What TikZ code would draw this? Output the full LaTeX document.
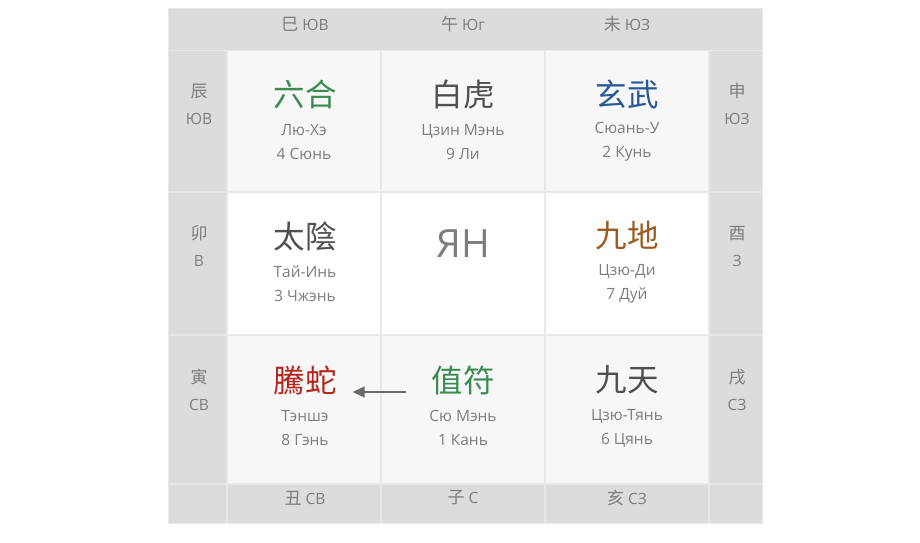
\documentclass[tikz,border=0pt]{standalone}
\usepackage{fontspec}
\setmainfont{Open Sans}
\newfontfamily\cjk{Noto Sans CJK SC}
\usetikzlibrary{arrows.meta}
\definecolor{grisfondo}{RGB}{220,220,220}
\definecolor{grislinea}{RGB}{232,232,232}
\definecolor{grisclaro}{RGB}{247,247,247}
\definecolor{gristexto}{RGB}{125,125,125}
\definecolor{grisoscuro}{RGB}{80,80,80}
\definecolor{verdejade}{RGB}{58,140,82}
\definecolor{azulnoche}{RGB}{40,88,150}
\definecolor{ocre}{RGB}{155,90,30}
\definecolor{rojoladrillo}{RGB}{178,38,30}
\newcommand{\gan}[1]{{\cjk\fontsize{17}{27}\selectfont #1}}
\tikzset{>={Triangle[length=12pt,width=11pt]},
  rumbo/.style={text=gristexto, inner sep=0pt, font=\fontsize{15.5}{27}\selectfont, align=center},
  signo/.style={inner sep=0pt, font=\cjk\fontsize{31.5}{33}\selectfont},
  nombre/.style={text=gristexto, inner sep=0pt, align=center, font=\fontsize{15.5}{24}\selectfont}}

\begin{document}
\begin{tikzpicture}[x=1pt,y=-1pt]
		 \useasboundingbox (0,0) rectangle (920,542);
		 \fill[grislinea] (168,8) rectangle (763,524);
		 \fill[grisfondo] (169,9) rectangle (762,50);
		 % columnas de los lados
		 \fill[grisfondo] (169,51) rectangle (226,191);
		 \fill[grisfondo] (169,193) rectangle (226,334);
		 \fill[grisfondo] (169,336) rectangle (226,483);
		 \fill[grisfondo] (710,51) rectangle (762,191);
		 \fill[grisfondo] (710,193) rectangle (762,334);
		 \fill[grisfondo] (710,336) rectangle (762,483);
		 % fila de abajo
		 \fill[grisfondo] (169,485) rectangle (226,523);
		 \fill[grisfondo] (228,485) rectangle (380,523);
		 \fill[grisfondo] (382,485) rectangle (544,523);
		 \fill[grisfondo] (546,485) rectangle (708,523);
		 \fill[grisfondo] (710,485) rectangle (762,523);
		 % palacios
		 \fill[grisclaro] (228,51) rectangle (380,191);
		 \fill[grisclaro] (382,51) rectangle (544,191);
		 \fill[grisclaro] (546,51) rectangle (708,191);
		 \fill[white] (228,193) rectangle (380,334);
		 \fill[white] (382,193) rectangle (544,334);
		 \fill[white] (546,193) rectangle (708,334);
		 \fill[grisclaro] (228,336) rectangle (380,483);
		 \fill[grisclaro] (382,336) rectangle (544,483);
		 \fill[grisclaro] (546,336) rectangle (708,483);

		 \node[rumbo] (si) at (305,24) {\gan{巳} ЮВ};
		 \node[rumbo] (wu) at (463,24) {\gan{午} Юг};
		 \node[rumbo] (wei) at (627,24) {\gan{未} ЮЗ};
		 \node[rumbo] (chen) at (199,104) {\gan{辰}\\ЮВ};
		 \node[rumbo] (mao) at (199,246) {\gan{卯}\\В};
		 \node[rumbo] (yin) at (199,390) {\gan{寅}\\СВ};
		 \node[rumbo] (shen) at (737,104) {\gan{申}\\ЮЗ};
		 \node[rumbo] (you) at (737,246) {\gan{酉}\\З};
		 \node[rumbo] (xu) at (737,390) {\gan{戌}\\СЗ};
		 \node[rumbo] (chou) at (305,498) {\gan{丑} СВ};
		 \node[rumbo] (zi) at (463,498) {\gan{子} С};
		 \node[rumbo] (hai) at (627,498) {\gan{亥} СЗ};

		 \node[signo, verdejade] (liuhe) at (305,94) {六合};
		 \node[nombre] (liuheN) at (304,142) {Лю-Хэ\\4 Сюнь};
		 \node[signo, grisoscuro] (baihu) at (463,94) {白虎};
		 \node[nombre] (baihuN) at (463,142) {Цзин Мэнь\\9 Ли};
		 \node[signo, azulnoche] (xuanwu) at (627,94) {玄武};
		 \node[nombre] (xuanwuN) at (627,142) {Сюань-У\\2 Кунь};

		 \node[signo, grisoscuro] (taiyin) at (305,236) {太陰};
		 \node[nombre] (taiyinN) at (305,284) {Тай-Инь\\3 Чжэнь};
		 \node[gristexto, inner sep=0pt, font=\fontsize{39}{41}\selectfont] (yan) at (463,244) {ЯН};
		 \node[signo, ocre] (jiudi) at (627,236) {九地};
		 \node[nombre] (jiudiN) at (627,284) {Цзю-Ди\\7 Дуй};

		 \node[signo, rojoladrillo] (tengshe) at (305,380) {騰蛇};
		 \node[nombre] (tengsheN) at (305,428) {Тэншэ\\8 Гэнь};
		 \node[signo, verdejade] (zhifu) at (463,380) {值符};
		 \node[nombre] (zhifuN) at (463,428) {Сю Мэнь\\1 Кань};
		 \node[signo, grisoscuro] (jiutian) at (627,380) {九天};
		 \node[nombre] (jiutianN) at (627,428) {Цзю-Тянь\\6 Цянь};

		 \draw[->, line width=1.1pt, grisoscuro!85!white, shorten <=25pt, shorten >=16pt] ([yshift=-12pt]zhifu.west) -- ([yshift=-12pt]tengshe.east);
		\end{tikzpicture}
\end{document}
